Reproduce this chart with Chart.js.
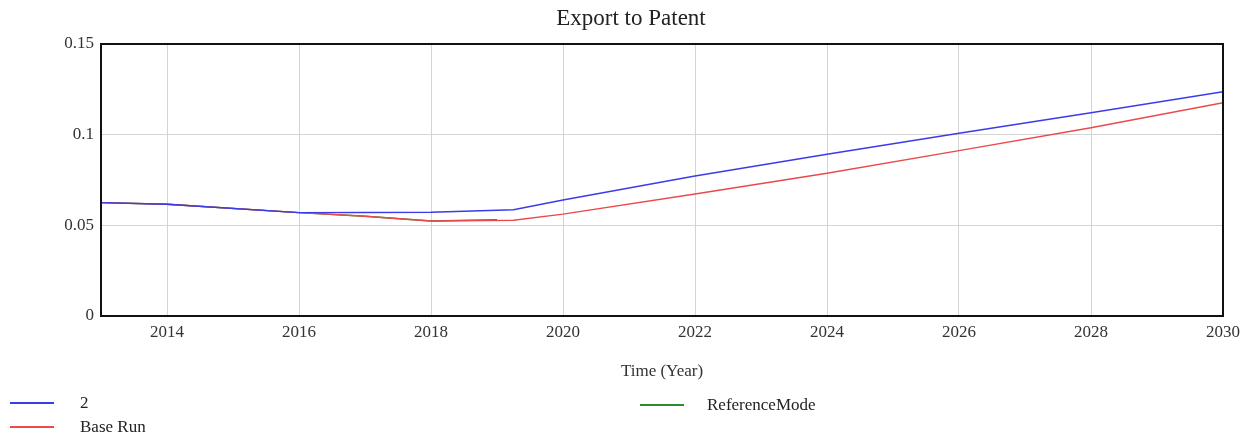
<!DOCTYPE html>
<html>
<head>
<meta charset="utf-8">
<script src="https://cdn.jsdelivr.net/npm/chart.js@4.4.1/dist/chart.umd.min.js"></script>
<style>
  html, body { margin: 0; padding: 0; background: #fff; }
  #wrap { position: relative; width: 1250px; height: 441px; font-family: 'Liberation Serif', serif; color: #222; }
  #title { position: absolute; left: 0; width: 1262px; top: 5px; text-align: center; font-size: 23px; }
  .leg { position: absolute; font-size: 17px; line-height: 18px; }
  .leg i { position: absolute; top: 8px; width: 44px; height: 2px; }
</style>
</head>
<body>
<div id="wrap">
  <canvas id="chart" width="1250" height="441"></canvas>
  <div id="title">Export to Patent</div>
  <div class="leg" style="left:10px;top:394px;"><i style="background:#3b3bea;"></i><span style="margin-left:70px;">2</span></div>
  <div class="leg" style="left:10px;top:418px;"><i style="background:#ea4a4a;"></i><span style="margin-left:70px;">Base Run</span></div>
  <div class="leg" style="left:640px;top:396px;"><i style="background:#2e8b2e;"></i><span style="margin-left:67px;">ReferenceMode</span></div>
</div>
<script>
// series values
const runYears = [2013, 2014, 2016, 2017, 2018, 2019.25, 2020, 2022, 2024, 2026, 2028, 2030];
const run2 = [0.0625, 0.0616, 0.0570, 0.0571, 0.0572, 0.0586, 0.0640, 0.0772, 0.0892, 0.1008, 0.1121, 0.1237];
const baseRun = [0.0625, 0.0616, 0.0570, 0.0550, 0.0524, 0.0528, 0.0562, 0.0673, 0.0787, 0.0912, 0.1038, 0.1176];
const refYears = [2013, 2014, 2016, 2017, 2018, 2019];
const referenceMode = [0.0625, 0.0616, 0.0570, 0.0550, 0.0524, 0.0531];
const xTicks = [2014, 2016, 2018, 2020, 2022, 2024, 2026, 2028, 2030];
const yTicks = [0, 0.05, 0.1, 0.15];

const toPoints = (xs, ys) => ys.map((v, i) => ({ x: xs[i], y: v }));

// black frame round the plot area
const framePlugin = {
  id: 'frame',
  afterDraw(chart) {
    const a = chart.chartArea;
    const ctx = chart.ctx;
    ctx.save();
    ctx.strokeStyle = '#111';
    ctx.lineWidth = 2;
    ctx.strokeRect(a.left, a.top, a.right - a.left, a.bottom - a.top);
    ctx.restore();
  }
};

const tickFont = { family: 'Liberation Serif', size: 17 };

new Chart(document.getElementById('chart'), {
  type: 'line',
  data: {
    datasets: [
      { label: '2', data: toPoints(runYears, run2), borderColor: '#3b3bea', borderWidth: 1.4 },
      { label: 'Base Run', data: toPoints(runYears, baseRun), borderColor: '#ea4a4a', borderWidth: 1.4 },
      { label: 'ReferenceMode', data: toPoints(refYears, referenceMode), borderColor: '#2e8b2e', borderWidth: 1.4 }
    ]
  },
  options: {
    responsive: false,
    animation: false,
    parsing: false,
    elements: { point: { radius: 0 }, line: { tension: 0 } },
    layout: { padding: { top: 44, right: 27, bottom: 55, left: 0 } },
    plugins: { legend: { display: false }, title: { display: false }, tooltip: { enabled: false } },
    scales: {
      x: {
        type: 'linear',
        min: 2013,
        max: 2030,
        afterBuildTicks(scale) { scale.ticks = xTicks.map(v => ({ value: v })); },
        afterFit(scale) { scale.height = 70; },
        grid: { color: '#d4d4d4', lineWidth: 1, drawTicks: false },
        border: { display: false },
        ticks: { font: tickFont, color: '#333', padding: 6, maxRotation: 0, callback: v => String(v) },
        title: { display: true, text: 'Time (Year)', font: { family: 'Liberation Serif', size: 17 }, color: '#333', padding: { top: 9 } }
      },
      y: {
        min: 0,
        max: 0.15,
        afterBuildTicks(scale) { scale.ticks = yTicks.map(v => ({ value: v })); },
        afterFit(scale) { scale.width = 101; },
        grid: { color: '#d4d4d4', lineWidth: 1, drawTicks: false },
        border: { display: false },
        ticks: { font: tickFont, color: '#333', padding: 7, callback: v => String(v) }
      }
    }
  },
  plugins: [framePlugin]
});
</script>
</body>
</html>
